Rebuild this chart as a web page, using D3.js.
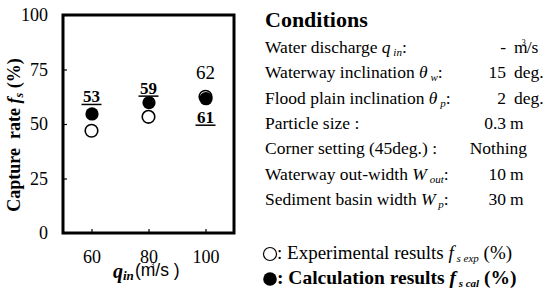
<!DOCTYPE html>
<html>
<head>
<meta charset="utf-8">
<script src="https://cdn.jsdelivr.net/npm/d3@7"></script>
<style>
  body { margin: 0; background: #fff; }
  svg { display: block; font-family: "Liberation Serif", "Times New Roman", serif; }
</style>
</head>
<body>
<div id="chart"></div>
<script>
// data
var discharge = [60, 80, 100];
var expRate = [46.9, 53.3, 62.5];     // open circles
var calRate = [54.6, 59.8, 61.6];     // filled circles
var calLabels = ["53", "59", "61"];
var expLabels = ["", "", "62"];
var yTicks = [0, 25, 50, 75, 100];
var xTicks = [60, 80, 100];

var condNames = ["Water discharge ", "Waterway inclination ", "Flood plain inclination ", "Particle size :",
                 "Corner setting (45deg.) :", "Waterway out-width ", "Sediment basin width "];
var condSym = [["q", "in"], ["\u03b8", "w"], ["\u03b8", "p"], null, null, ["W", "out"], ["W", "p"]];
var condVal = ["-", "15", "2", "0.3", "Nothing", "10", "30"];
var condUnit = ["m/s", "deg.", "deg.", "m", "", "m", "m"];

var svg = d3.select("#chart")
  .append("svg")
  .attr("width", 550)
  .attr("height", 294)

var x = d3.scaleLinear().domain([50, 110]).range([63, 234]);
var y = d3.scaleLinear().domain([0, 100]).range([233, 15]);

// axes, ticks pointing inward
var yAxis = svg.append("g")
  .attr("transform", "translate(63,0)")
  .call(d3.axisLeft(y).tickValues(yTicks).tickSize(-4).tickPadding(15))
var xAxis = svg.append("g")
  .attr("transform", "translate(0,233)")
  .call(d3.axisBottom(x).tickValues(xTicks).tickSize(-4).tickPadding(17))

svg.selectAll(".domain").remove()
svg.selectAll(".tick line").attr("stroke", "#000").attr("stroke-width", 1.2)
svg.selectAll(".tick text")
  .attr("fill", "#000")
  .style("font-family", "'Liberation Serif', 'Times New Roman', serif")
  .style("font-size", "18px")

svg.append("rect")
  .attr("x", 63).attr("y", 15)
  .attr("width", 171).attr("height", 218)
  .attr("fill", "none")
  .attr("stroke", "#000")
  .attr("stroke-width", 3)

// points
svg.selectAll(".exp")
  .data(discharge)
  .enter()
  .append("circle")
  .attr("class", "exp")
  .attr("cx", function(d) { return x(d) })
  .attr("cy", function(d, i) { return y(expRate[i]) })
  .attr("r", 6.3)
  .attr("fill", "#fff")
  .attr("stroke", "#000")
  .attr("stroke-width", 1.6)

svg.selectAll(".cal")
  .data(discharge)
  .enter()
  .append("circle")
  .attr("class", "cal")
  .attr("cx", function(d) { return x(d) + 0.5 })
  .attr("cy", function(d, i) { return y(calRate[i]) })
  .attr("r", 6.6)
  .attr("fill", "#000")

// value labels; last calc label sits under its point
var calOff = [-12, -9, 24];
discharge.forEach(function(d, i) {
  var by = y(calRate[i]) + calOff[i];
  svg.append("text")
    .attr("x", x(d)).attr("y", by)
    .attr("text-anchor", "middle")
    .attr("font-size", 17)
    .attr("font-weight", "bold")
    .text(calLabels[i])
  svg.append("line")
    .attr("x1", x(d) - 10).attr("x2", x(d) + 10)
    .attr("y1", by + 2.5).attr("y2", by + 2.5)
    .attr("stroke", "#000").attr("stroke-width", 1.5)
  if (expLabels[i] != "") {
    svg.append("text")
      .attr("x", x(d)).attr("y", y(expRate[i]) - 17.5)
      .attr("text-anchor", "middle")
      .attr("font-size", 19)
      .text(expLabels[i])
  }
})

// y label
var yl = svg.append("text")
  .attr("transform", "translate(20,135) rotate(-90)")
  .attr("text-anchor", "middle")
  .attr("font-size", 18)
  .attr("font-weight", "bold")
yl.append("tspan").text("Capture\u00a0\u00a0rate ")
yl.append("tspan").attr("font-style", "italic").text("f")
yl.append("tspan").attr("font-style", "italic").attr("font-size", 12).attr("dy", 3).text("s")
yl.append("tspan").attr("dy", -3).text(" (%)")

// x label
var xl = svg.append("text").attr("x", 113).attr("y", 278)
xl.append("tspan").attr("font-size", 20).attr("font-weight", "bold").attr("font-style", "italic").text("q")
xl.append("tspan").attr("font-size", 13).attr("font-weight", "bold").attr("font-style", "italic").attr("dy", 2).text("in")
var xu = svg.append("text").attr("x", 135).attr("y", 276)
  .attr("font-family", "Liberation Sans, Arial, sans-serif").attr("font-size", 17.5)
xu.append("tspan").text("(m")
xu.append("tspan").attr("font-size", 7).attr("dy", -9).attr("dx", -5).text("3")
xu.append("tspan").attr("dy", 9).attr("dx", 1).text("/s )")

// conditions panel
svg.append("text")
  .attr("x", 265).attr("y", 27)
  .attr("font-size", 22)
  .attr("font-weight", "bold")
  .text("Conditions")

condNames.forEach(function(n, i) {
  var by = 53 + i * 25.3;
  var t = svg.append("text").attr("x", 265).attr("y", by).attr("font-size", 17.5)
  t.append("tspan").text(n)
  if (condSym[i]) {
    t.append("tspan").attr("font-style", "italic").text(condSym[i][0])
    t.append("tspan").attr("font-style", "italic").attr("font-size", 11).attr("dy", 3).text(" " + condSym[i][1])
    t.append("tspan").attr("dy", -3).text(":")
  }
  if (condUnit[i] == "") {
    svg.append("text").attr("x", 527).attr("y", by).attr("font-size", 17.5)
      .attr("text-anchor", "end").text(condVal[i])
  } else {
    svg.append("text").attr("x", 506).attr("y", by).attr("font-size", 17.5)
      .attr("text-anchor", "end").text(condVal[i])
    var u = svg.append("text").attr("x", condUnit[i] == "m" ? 510 : 514).attr("y", by).attr("font-size", 17.5)
    if (condUnit[i] == "m/s") {
      u.append("tspan").text("m")
      u.append("tspan").attr("font-size", 8).attr("dy", -8).attr("dx", -6).text("3")
      u.append("tspan").attr("dy", 8).attr("dx", 1).text("/s")
    } else {
      u.text(condUnit[i])
    }
  }
})

// legend
svg.append("circle").attr("cx", 270).attr("cy", 254).attr("r", 6.5)
  .attr("fill", "#fff").attr("stroke", "#000").attr("stroke-width", 1.2)
svg.append("circle").attr("cx", 270).attr("cy", 279).attr("r", 6.8).attr("fill", "#000")

var l1 = svg.append("text").attr("x", 277).attr("y", 259).attr("font-size", 19)
l1.append("tspan").text(": Experimental results ")
l1.append("tspan").attr("font-style", "italic").text("f")
l1.append("tspan").attr("font-style", "italic").attr("font-size", 11).attr("dy", 3).text(" s exp")
l1.append("tspan").attr("dy", -3).text(" (%)")

var l2 = svg.append("text").attr("x", 277).attr("y", 284).attr("font-size", 19.5).attr("font-weight", "bold")
l2.append("tspan").text(": Calculation results ")
l2.append("tspan").attr("font-style", "italic").text("f")
l2.append("tspan").attr("font-style", "italic").attr("font-size", 11).attr("dy", 3).text(" s cal")
l2.append("tspan").attr("dy", -3).text(" (%)")
</script>
</body>
</html>
